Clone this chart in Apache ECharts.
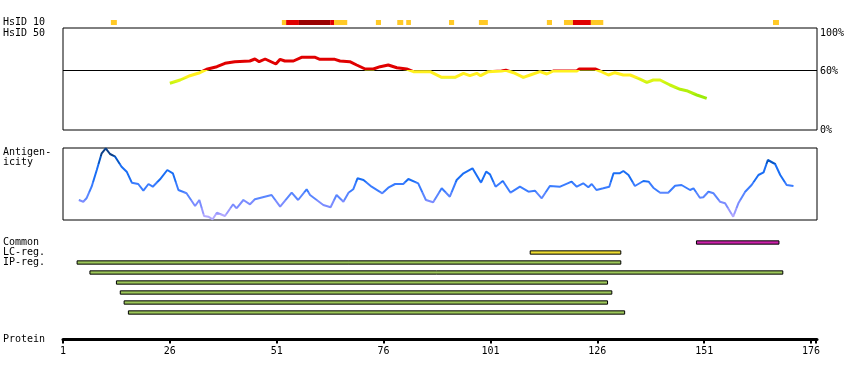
<!DOCTYPE html>
<html><head><meta charset="utf-8">
<script src="https://cdn.jsdelivr.net/npm/echarts@6/dist/echarts.min.js"></script>
<style>html,body{margin:0;padding:0;background:#fff}#c{width:850px;height:380px}</style>
</head><body><div id="c"></div>
<script>
// ---------------- data ----------------
const tickValues = [1, 26, 51, 76, 101, 126, 151, 176];
const axisEnd = 177.4;
// HsID 10 blocks: [startResidue, endResidue, level] level 1=low,2=mid,3=high
const hsid10Blocks = [
  [12.2, 13.6, 1], [52.2, 53.2, 1], [53.2, 56.2, 2], [56.2, 63.5, 3], [63.5, 64.4, 2],
  [64.4, 67.5, 1], [74.2, 75.4, 1], [79.2, 80.6, 1], [81.3, 82.4, 1], [91.3, 92.5, 1],
  [98.3, 100.4, 1], [114.2, 115.4, 1], [118.2, 120.3, 1], [120.3, 124.5, 2],
  [124.5, 127.4, 1], [167.1, 168.5, 1]
];
// HsID 50 identity (%) by residue
const hsid50Points = [
  [26, 46.7], [28.4, 50], [30.7, 54.3], [33, 57.3], [34.6, 60.7], [37, 63.3], [38.9, 66.7],
  [41.2, 68.3], [44.7, 69], [45.9, 71], [46.9, 68.3], [48.3, 71], [50.8, 66], [51.8, 70.7],
  [52.9, 69], [54.9, 69], [56.8, 72.7], [60, 72.7], [61.1, 70.7], [64.6, 70.7], [65.8, 69],
  [68.1, 68.3], [69.7, 65], [71.7, 61], [73.6, 61], [75.2, 63.3], [77.1, 65], [79.1, 62.3],
  [81.4, 61], [83, 58.3], [86.9, 58.3], [89.6, 52.7], [92.7, 52.7], [94.7, 56.7], [96.2, 54.3],
  [97.8, 56.7], [98.7, 54.3], [100.5, 58.3], [103.6, 59], [104.6, 59.8], [106.4, 57.3],
  [108.7, 52.7], [110.3, 55], [112.6, 58.3], [114.2, 56], [115.7, 59], [121.2, 59], [121.8, 61],
  [125.5, 61], [126.6, 59], [128.6, 55], [130.1, 57.3], [132.1, 55], [133.7, 55], [135.6, 51.7],
  [137.6, 47.7], [139.1, 50], [140.7, 50], [143, 45], [145.4, 40.7], [146.9, 39.3],
  [149.3, 35], [151.6, 31.7]
];
// Antigenicity score by residue
const antigenicityPoints = [
  [4.7, 20], [5.75, 18.3], [6.5, 21.7], [7.7, 33.3], [8.9, 50], [10.05, 66.7], [11, 71.7],
  [12, 66], [13.2, 63.3], [14.7, 53.3], [15.9, 48.3], [17.1, 37.3], [18.6, 36], [19.8, 29.3],
  [21, 36], [22, 33.3], [23.7, 40.7], [25.4, 50], [26.7, 46.7], [28, 30], [29.9, 26.7],
  [31.9, 14], [32.9, 20], [34, 4], [35, 3.3], [36, 0.7], [37, 7.3], [38.9, 4], [40.8, 15.7],
  [41.6, 11.7], [43.2, 20], [44.75, 15.7], [45.9, 20.7], [49.8, 25], [51.8, 13.3], [54.5, 27.3],
  [56, 20], [58, 30.7], [58.8, 25], [61.9, 15], [63.6, 12.7], [65, 25], [66.6, 18.3],
  [67.8, 27.3], [68.9, 30.7], [69.9, 41.7], [71.3, 40], [73.2, 33.3], [75.7, 26.7], [77.1, 32.3],
  [78.7, 36], [80.6, 36], [81.8, 41], [84.1, 36.7], [85.9, 20], [87.6, 17.7], [89.6, 31.7],
  [91.5, 23.3], [93.1, 40], [94.7, 46.7], [96.8, 51.7], [98.8, 37.3], [100, 48.3], [100.9, 45.7],
  [102.2, 33.3], [103.9, 39], [105.7, 27.3], [107.9, 33.3], [109.9, 28.3], [111.4, 29.3],
  [113, 21.7], [114.9, 34], [117.3, 33.3], [120, 38.3], [121.2, 33.3], [122.7, 36.7],
  [123.9, 32.7], [124.7, 36], [125.8, 30], [127.4, 31.7], [128.8, 33.3], [129.8, 46.7],
  [131.2, 46.7], [132.1, 49], [133.3, 45], [134.8, 34], [136.8, 39], [138, 38.3], [139.1, 32.3],
  [140.7, 27.3], [142.6, 27.3], [144.2, 34.3], [145.7, 35], [147.7, 30], [148.5, 31.7],
  [150, 22.3], [150.8, 22.7], [152, 28.3], [153.2, 26.7], [154.7, 18.3], [155.9, 16.7],
  [157.8, 3.3], [159, 16.7], [160.6, 28.3], [162.1, 35], [163.7, 45], [164.9, 47.7],
  [165.9, 60], [167.6, 56], [168.8, 45], [170.3, 35], [171.9, 34]
];
const rowLabels = ['Common', 'LC-reg.', 'IP-reg.', '', '', '', '', ''];
// region bars: [start, end, row, kind]
const regionBars = [
  [149.2, 168.5, 0, 'common'],
  [110.3, 131.5, 1, 'lc'],
  [4.3, 131.5, 2, 'ip'],
  [7.3, 169.4, 3, 'ip'],
  [13.5, 128.4, 4, 'ip'],
  [14.4, 129.4, 5, 'ip'],
  [15.3, 128.4, 6, 'ip'],
  [16.3, 132.4, 7, 'ip']
];

// ---------------- styles ----------------
const FONT = 'DejaVu Sans Mono';
const levelColors = {1: '#ffc926', 2: '#e00000', 3: '#990000'};
const barColors = {common: '#cc22aa', lc: '#eedd33', ip: '#9dc75a'};
const L = 63, R = 33;

const hiddenX = (gi) => ({gridIndex: gi, type: 'value', min: 1, max: axisEnd, show: false});

const option = {
  animation: false,
  grid: [
    {left: L, right: R, top: 20, height: 5},
    {left: L, right: R, top: 28, height: 102, show: true, borderColor: '#000', borderWidth: 1},
    {left: L, right: R, top: 148, height: 72, show: true, borderColor: '#000', borderWidth: 1},
    {left: L, right: R, top: 237.5, height: 80},
    {left: L, right: R, top: 330, height: 9}
  ],
  xAxis: [
    hiddenX(0), hiddenX(1), hiddenX(2), hiddenX(3),
    {
      gridIndex: 4, type: 'value', min: 1, max: axisEnd, position: 'bottom',
      axisLine: {show: true, lineStyle: {color: '#000', width: 3}},
      axisTick: {show: true, customValues: tickValues.concat([177.2]), length: 4.5, lineStyle: {color: '#000', width: 2}},
      axisLabel: {customValues: tickValues, fontFamily: FONT, fontSize: 10, color: '#000', margin: 7},
      splitLine: {show: false}
    }
  ],
  yAxis: [
    {gridIndex: 0, type: 'value', min: 0, max: 1, show: false},
    {
      gridIndex: 1, type: 'value', min: 0, max: 102, position: 'right',
      axisLine: {show: false}, axisTick: {show: false}, splitLine: {show: false},
      axisLabel: {
        customValues: [0, 60, 100],
        formatter: v => v === 100 ? '{t|100%}' : (v === 60 ? '{m|60%}' : v + '%'),
        rich: {
          t: {fontFamily: FONT, fontSize: 10, color: '#000', padding: [7, 0, 0, 0]},
          m: {fontFamily: FONT, fontSize: 10, color: '#000', padding: [2, 0, 0, 0]}
        },
        fontFamily: FONT, fontSize: 10, color: '#000', margin: 3
      }
    },
    {gridIndex: 2, type: 'value', min: 0, max: 72, show: false},
    {
      gridIndex: 3, type: 'category', data: rowLabels, inverse: true,
      axisLine: {show: false}, axisTick: {show: false}, splitLine: {show: false},
      axisLabel: {align: 'left', margin: 60, fontFamily: FONT, fontSize: 10, color: '#000', interval: 0}
    },
    {gridIndex: 4, type: 'value', show: false}
  ],
  visualMap: [
    {
      show: false, type: 'piecewise', seriesIndex: 1, dimension: 1,
      pieces: [
        {gt: 60.3, color: '#e00000'},
        {gt: 52, lte: 60.3, color: '#fff01e'},
        {gt: 48, lte: 52, color: '#ddf516'},
        {gt: 42, lte: 48, color: '#c8f510'},
        {gt: 36, lte: 42, color: '#b4f00c'},
        {lte: 36, color: '#9cec08'}
      ]
    },
    {
      show: false, type: 'piecewise', seriesIndex: 2, dimension: 1,
      pieces: [
        {gt: 64, color: '#0a3f88'},
        {gt: 56, lte: 64, color: '#0657c8'},
        {gt: 38, lte: 56, color: '#1a6ef5'},
        {gt: 28, lte: 38, color: '#3a7cff'},
        {gt: 20, lte: 28, color: '#5a86ff'},
        {gt: 12, lte: 20, color: '#7b8cff'},
        {gt: 6, lte: 12, color: '#9898ff'},
        {lte: 6, color: '#b0a8ff'}
      ]
    }
  ],
  graphic: [
    {type: 'text', x: 3, y: 22, style: {text: 'HsID 10', fontFamily: FONT, fontSize: 10, fill: '#000', verticalAlign: 'middle'}},
    {type: 'text', x: 3, y: 33, style: {text: 'HsID 50', fontFamily: FONT, fontSize: 10, fill: '#000', verticalAlign: 'middle'}},
    {type: 'text', x: 3, y: 147, style: {text: 'Antigen-\nicity', fontFamily: FONT, fontSize: 10, lineHeight: 10, fill: '#000', verticalAlign: 'top'}},
    {type: 'text', x: 3, y: 339, style: {text: 'Protein', fontFamily: FONT, fontSize: 10, fill: '#000', verticalAlign: 'middle'}}
  ],
  series: [
    {
      type: 'custom', xAxisIndex: 0, yAxisIndex: 0, data: hsid10Blocks,
      encode: {x: [0, 1]},
      renderItem: (params, api) => {
        const a = api.coord([api.value(0), 1]);
        const b = api.coord([api.value(1), 0]);
        return {type: 'rect', shape: {x: a[0], y: a[1], width: b[0] - a[0], height: b[1] - a[1]},
          style: {fill: levelColors[api.value(2)]}};
      }
    },
    {
      type: 'line', xAxisIndex: 1, yAxisIndex: 1, data: hsid50Points, showSymbol: false,
      lineStyle: {width: 3}, z: 3,
      markLine: {
        silent: true, symbol: 'none', label: {show: false},
        lineStyle: {color: '#000', width: 1, type: 'solid'},
        data: [{yAxis: 60}], z: 1
      }
    },
    {
      type: 'line', xAxisIndex: 2, yAxisIndex: 2, data: antigenicityPoints, showSymbol: false,
      lineStyle: {width: 2}
    },
    {
      type: 'custom', xAxisIndex: 3, yAxisIndex: 3, data: regionBars,
      encode: {x: [0, 1], y: 2},
      renderItem: (params, api) => {
        const a = api.coord([api.value(0), api.value(2)]);
        const b = api.coord([api.value(1), api.value(2)]);
        const kind = regionBars[params.dataIndex][3];
        return {type: 'rect', shape: {x: a[0], y: a[1] - 1.65, width: b[0] - a[0], height: 3.3},
          style: {fill: barColors[kind], stroke: '#000', lineWidth: 1}};
      }
    }
  ]
};
const chart = echarts.init(document.getElementById('c'), null, {renderer: 'canvas'});
chart.setOption(option);
</script></body></html>
